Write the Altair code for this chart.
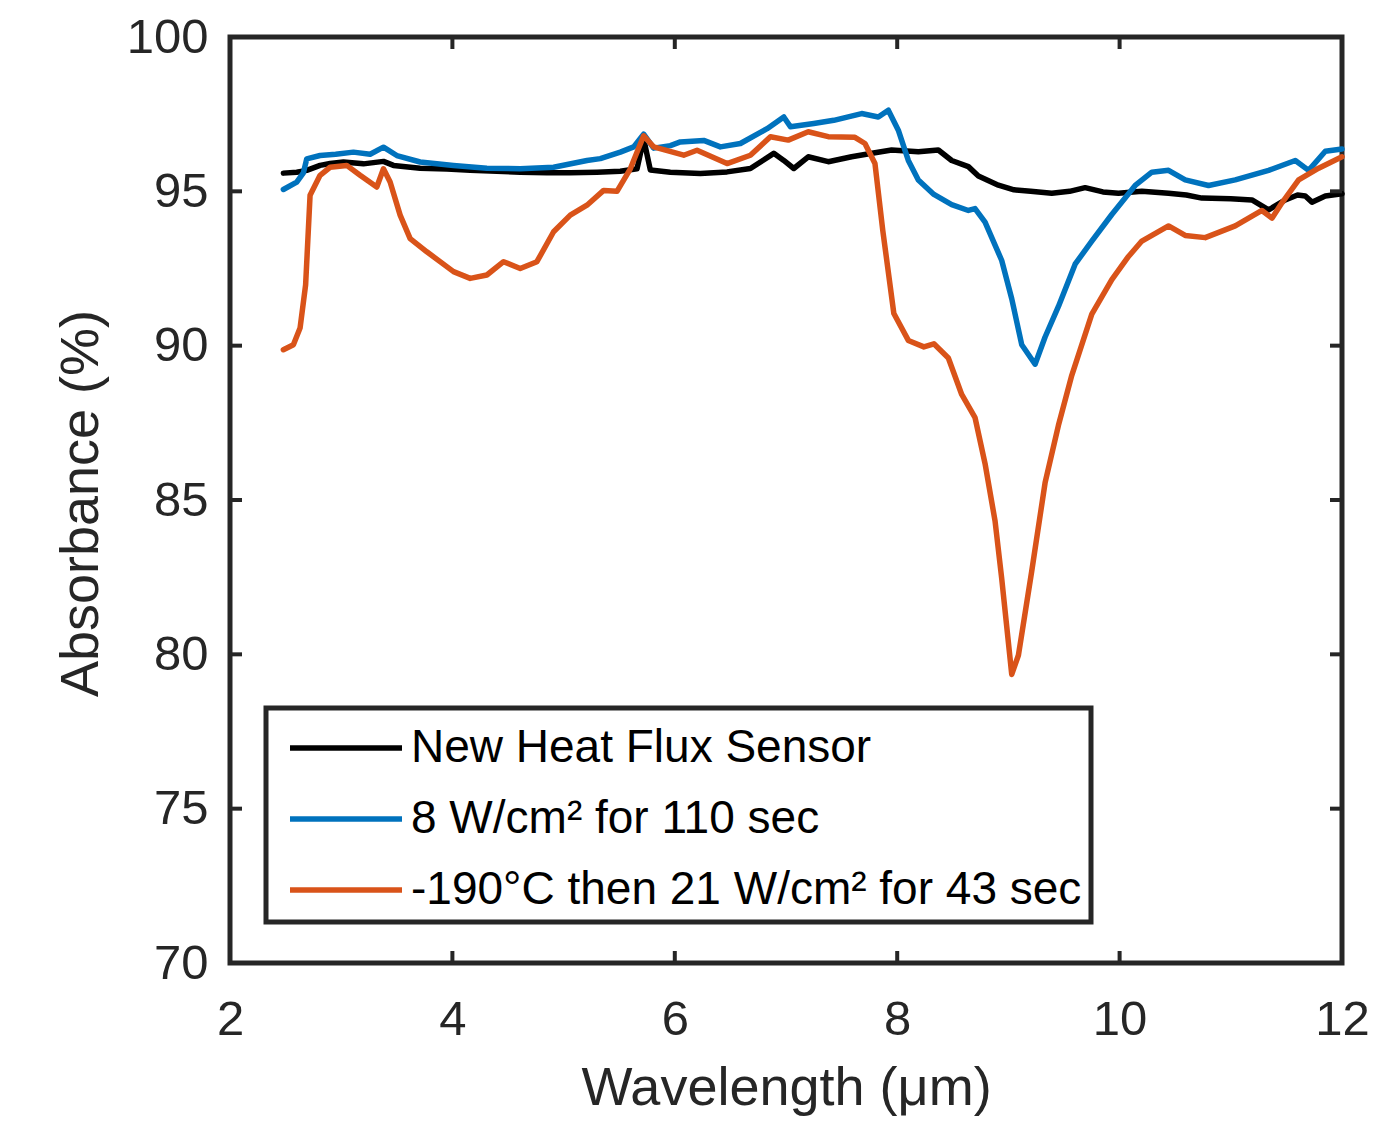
import altair as alt
import pandas as pd

# ---------------- data ----------------
series_names = ["New Heat Flux Sensor", "8 W/cm\u00b2 for 110 sec", "-190\u00b0C then 21 W/cm\u00b2 for 43 sec"]
series_colors = ["#000000", "#0072BD", "#D95319"]

wl_black = [2.48, 2.60, 2.69, 2.81, 2.90, 3.02, 3.20, 3.38, 3.47, 3.71, 3.95, 4.16, 4.40, 4.61, 4.85,
            5.06, 5.30, 5.51, 5.66, 5.72, 5.78, 5.96, 6.23, 6.47, 6.68, 6.89, 6.98, 7.07, 7.20, 7.38,
            7.59, 7.80, 7.95, 8.19, 8.37, 8.49, 8.64, 8.73, 8.91, 9.05, 9.20, 9.39, 9.55, 9.69, 9.85,
            9.99, 10.20, 10.44, 10.60, 10.74, 11.00, 11.19, 11.34, 11.49, 11.60, 11.67, 11.73, 11.85, 12.00]
abs_black = [95.59, 95.62, 95.68, 95.84, 95.90, 95.95, 95.89, 95.97, 95.84, 95.75, 95.72, 95.68, 95.65, 95.62, 95.60,
             95.60, 95.62, 95.65, 95.73, 96.70, 95.69, 95.62, 95.58, 95.63, 95.74, 96.23, 96.00, 95.74, 96.12, 95.96,
             96.12, 96.25, 96.34, 96.28, 96.34, 96.00, 95.80, 95.50, 95.20, 95.05, 95.00, 94.94, 95.00, 95.12, 94.98,
             94.94, 95.00, 94.94, 94.88, 94.78, 94.76, 94.72, 94.40, 94.72, 94.88, 94.85, 94.65, 94.85, 94.92]

wl_blue = [2.48, 2.60, 2.66, 2.69, 2.81, 2.95, 3.11, 3.26, 3.38, 3.50, 3.71, 4.01, 4.31, 4.61, 4.91,
           5.21, 5.33, 5.51, 5.63, 5.72, 5.81, 5.96, 6.05, 6.26, 6.41, 6.59, 6.83, 6.98, 7.04, 7.25,
           7.43, 7.68, 7.83, 7.92, 8.01, 8.10, 8.19, 8.33, 8.49, 8.64, 8.70, 8.79, 8.94, 9.03, 9.12,
           9.24, 9.33, 9.45, 9.60, 9.75, 9.93, 10.14, 10.29, 10.44, 10.59, 10.80, 11.04, 11.34, 11.58,
           11.70, 11.85, 12.00]
abs_blue = [95.06, 95.30, 95.60, 96.05, 96.16, 96.20, 96.27, 96.20, 96.43, 96.16, 95.95, 95.84, 95.75, 95.73, 95.78,
            96.00, 96.06, 96.27, 96.44, 96.85, 96.40, 96.48, 96.60, 96.65, 96.44, 96.55, 97.03, 97.41, 97.09, 97.20,
            97.30, 97.52, 97.41, 97.63, 96.98, 96.00, 95.37, 94.90, 94.57, 94.38, 94.44, 94.00, 92.76, 91.52, 90.03,
            89.40, 90.28, 91.27, 92.64, 93.39, 94.25, 95.19, 95.62, 95.68, 95.37, 95.19, 95.37, 95.68, 96.00,
            95.68, 96.30, 96.37]

wl_orange = [2.48, 2.57, 2.63, 2.68, 2.72, 2.81, 2.90, 3.05, 3.17, 3.32, 3.38, 3.44, 3.53, 3.62, 3.77,
             4.01, 4.16, 4.31, 4.46, 4.61, 4.76, 4.91, 5.06, 5.21, 5.36, 5.48, 5.60, 5.72, 5.81, 6.08,
             6.20, 6.47, 6.68, 6.86, 7.02, 7.20, 7.38, 7.62, 7.71, 7.80, 7.87, 7.97, 8.10, 8.24, 8.33,
             8.46, 8.58, 8.70, 8.79, 8.88, 8.94, 9.03, 9.09, 9.21, 9.33, 9.45, 9.57, 9.75, 9.93, 10.08,
             10.20, 10.44, 10.59, 10.77, 11.04, 11.28, 11.37, 11.46, 11.61, 11.79, 12.00]
abs_orange = [89.87, 90.03, 90.57, 91.97, 94.87, 95.52, 95.78, 95.84, 95.52, 95.14, 95.73, 95.30, 94.23, 93.47, 93.04,
              92.40, 92.18, 92.29, 92.72, 92.50, 92.72, 93.69, 94.23, 94.55, 95.03, 95.00, 95.73, 96.80, 96.44, 96.17,
              96.33, 95.90, 96.17, 96.77, 96.66, 96.93, 96.77, 96.75, 96.55, 95.90, 93.74, 91.04, 90.17, 89.96, 90.06,
              89.60, 88.42, 87.67, 86.18, 84.32, 82.45, 79.35, 79.97, 82.70, 85.56, 87.42, 89.04, 91.02, 92.14, 92.89,
              93.39, 93.88, 93.57, 93.50, 93.88, 94.38, 94.13, 94.63, 95.37, 95.75, 96.12]

x_ticks = [2, 4, 6, 8, 10, 12]
y_ticks = [70, 75, 80, 85, 90, 95, 100]

# ---------------- build table ----------------
rows = []
for name, xs, ys in zip(series_names, [wl_black, wl_blue, wl_orange], [abs_black, abs_blue, abs_orange]):
    for x, y in zip(xs, ys):
        rows.append({"wl": x, "ab": y, "series": name})
df = pd.DataFrame(rows)

W, H = 1112, 926
FONT = "Liberation Sans"
DARK = "#262626"
TICK = 12

xscale = alt.Scale(domain=[2, 12], nice=False, zero=False)
yscale = alt.Scale(domain=[70, 100], nice=False, zero=False)

lines = alt.Chart(df).mark_line(strokeWidth=5.5, strokeJoin="round", strokeCap="round").encode(
    x=alt.X("wl:Q", scale=xscale, title="Wavelength (\u03bcm)",
            axis=alt.Axis(values=x_ticks, format="d", ticks=False, domain=False, grid=False,
                          labelFont=FONT, labelFontSize=49, labelColor=DARK, labelPadding=32,
                          labelFlush=False, labelOverlap=False,
                          titleFont=FONT, titleFontSize=54, titleFontWeight="normal", titleColor=DARK,
                          titleY=141, titleBaseline="alphabetic")),
    y=alt.Y("ab:Q", scale=yscale, title="Absorbance (%)",
            axis=alt.Axis(values=y_ticks, format="d", ticks=False, domain=False, grid=False,
                          labelFont=FONT, labelFontSize=49, labelColor=DARK, labelPadding=22,
                          labelFlush=False, labelOverlap=False,
                          titleFont=FONT, titleFontSize=54, titleFontWeight="normal", titleColor=DARK,
                          titleX=-133, titleY=466, titleBaseline="alphabetic", titleAngle=270)),
    color=alt.Color("series:N", scale=alt.Scale(domain=series_names, range=series_colors),
                    legend=alt.Legend(orient="none", legendX=36, legendY=671, title=None,
                                      symbolType="M-2,0H2", symbolSize=3136, symbolStrokeWidth=5.5,
                                      symbolOffset=40, labelOffset=34, labelFont=FONT, labelFontSize=46,
                                      labelColor="#000000", labelLimit=2000, rowPadding=17, padding=9,
                                      strokeColor=DARK, fillColor="white", direction="vertical")),
    order=alt.Order("wl:Q"),
)

xt_df = pd.DataFrame({"wl": x_ticks})
yt_df = pd.DataFrame({"ab": y_ticks})

x_bottom = alt.Chart(xt_df).mark_rule(color=DARK, strokeWidth=4).encode(
    x=alt.X("wl:Q", scale=xscale), y=alt.value(H), y2=alt.value(H - TICK))
x_top = alt.Chart(xt_df).mark_rule(color=DARK, strokeWidth=4).encode(
    x=alt.X("wl:Q", scale=xscale), y=alt.value(0), y2=alt.value(TICK))
y_left = alt.Chart(yt_df).mark_rule(color=DARK, strokeWidth=4).encode(
    y=alt.Y("ab:Q", scale=yscale), x=alt.value(0), x2=alt.value(TICK))
y_right = alt.Chart(yt_df).mark_rule(color=DARK, strokeWidth=4).encode(
    y=alt.Y("ab:Q", scale=yscale), x=alt.value(W - TICK), x2=alt.value(W))

chart = alt.layer(lines, x_bottom, x_top, y_left, y_right).properties(
    width=W, height=H,
    autosize=alt.AutoSizeParams(type="none"),
    padding={"left": 222, "top": 29, "right": 40, "bottom": 164},
    background="white",
).configure_view(stroke=DARK, strokeWidth=5).configure_legend(strokeWidth=5)

chart.save("out.html", embed_options={"renderer": "svg", "actions": False})
